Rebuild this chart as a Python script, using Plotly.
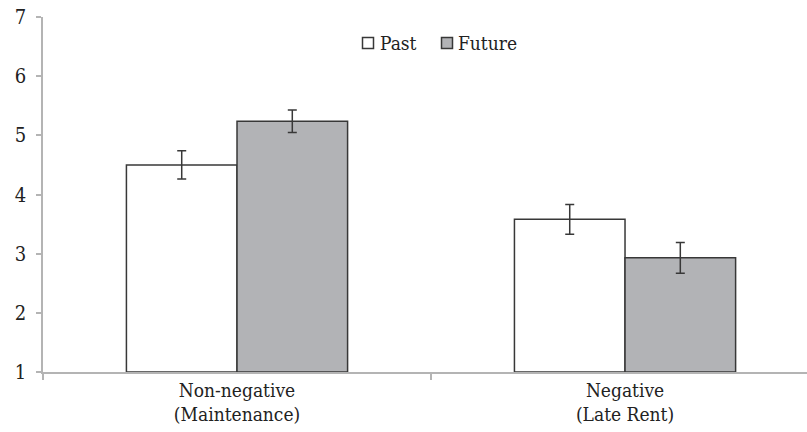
import plotly.graph_objects as go

# Mean ratings by event type and temporal framing, with standard errors
categories = ["Non-negative<br>(Maintenance)", "Negative<br>(Late Rent)"]
past_means = [4.50, 3.58]
past_errors = [0.24, 0.25]
future_means = [5.24, 2.93]
future_errors = [0.19, 0.26]
series_names = ["Past", "Future"]
y_ticks = [1, 2, 3, 4, 5, 6, 7]

W, H = 807, 432
M_L, M_R, M_T, M_B = 43, 0, 17, 60
PLOT_W = W - M_L - M_R
PLOT_H = H - M_T - M_B

FONT = "'DejaVu Serif Condensed', 'DejaVu Serif', serif"
FS = 19
TEXT = "#222222"
OUTLINE = "#383838"
AXIS = "#b4b4b4"
COLORS = ["#ffffff", "#b2b3b6"]


def px_to_paper_x(px):
    return (px - M_L) / PLOT_W


def px_to_paper_y(py):
    return (H - M_B - py) / PLOT_H


fig = go.Figure()
for name, means, errs, color in zip(series_names,
                                    [past_means, future_means],
                                    [past_errors, future_errors],
                                    COLORS):
    fig.add_trace(go.Bar(
        name=name,
        x=categories,
        y=[m - 1 for m in means],
        base=1,
        marker=dict(color=color, line=dict(color=OUTLINE, width=1.5)),
        error_y=dict(type="data", array=errs, visible=True,
                     color=OUTLINE, thickness=1.5, width=4.5),
        showlegend=False,
        hovertemplate="%{x}: %{customdata}<extra>" + name + "</extra>",
        customdata=means,
    ))

# Legend: small swatches followed by labels, centred above the bars
legend_items = [(series_names[0], COLORS[0], 368, 378),
                (series_names[1], COLORS[1], 447, 456)]
legend_y = 43
half = 5.5
for label, color, cx, tx in legend_items:
    fig.add_shape(type="rect", xref="paper", yref="paper",
                  x0=px_to_paper_x(cx - half), x1=px_to_paper_x(cx + half),
                  y0=px_to_paper_y(legend_y + half), y1=px_to_paper_y(legend_y - half),
                  fillcolor=color, line=dict(color=OUTLINE, width=1.5))
    fig.add_annotation(text=label, xref="paper", yref="paper",
                       x=px_to_paper_x(tx), y=px_to_paper_y(legend_y),
                       xanchor="left", yanchor="middle", showarrow=False,
                       font=dict(family=FONT, size=FS, color=TEXT))

fig.update_layout(
    width=W, height=H,
    margin=dict(l=M_L, r=M_R, t=M_T, b=M_B, pad=0),
    paper_bgcolor="white", plot_bgcolor="white",
    barmode="group", bargap=0.43, bargroupgap=0,
    font=dict(family=FONT, size=FS, color=TEXT),
)
fig.update_xaxes(
    type="category", range=[-0.5, 1.469],
    showline=True, linecolor=AXIS, linewidth=1.5,
    ticks="outside", tickson="boundaries", ticklen=6, tickcolor=AXIS, tickwidth=1.5,
    showgrid=False, zeroline=False,
    tickfont=dict(family=FONT, size=FS, color=TEXT),
)
fig.update_yaxes(
    range=[1, 7], tickvals=y_ticks, ticktext=[str(v) for v in y_ticks],
    showline=True, linecolor=AXIS, linewidth=1.5,
    ticks="outside", ticklen=5, tickcolor=AXIS, tickwidth=1.5,
    ticklabelstandoff=6,
    showgrid=False, zeroline=False,
    tickfont=dict(family=FONT, size=20, color=TEXT),
)

fig.write_html("out.html")
